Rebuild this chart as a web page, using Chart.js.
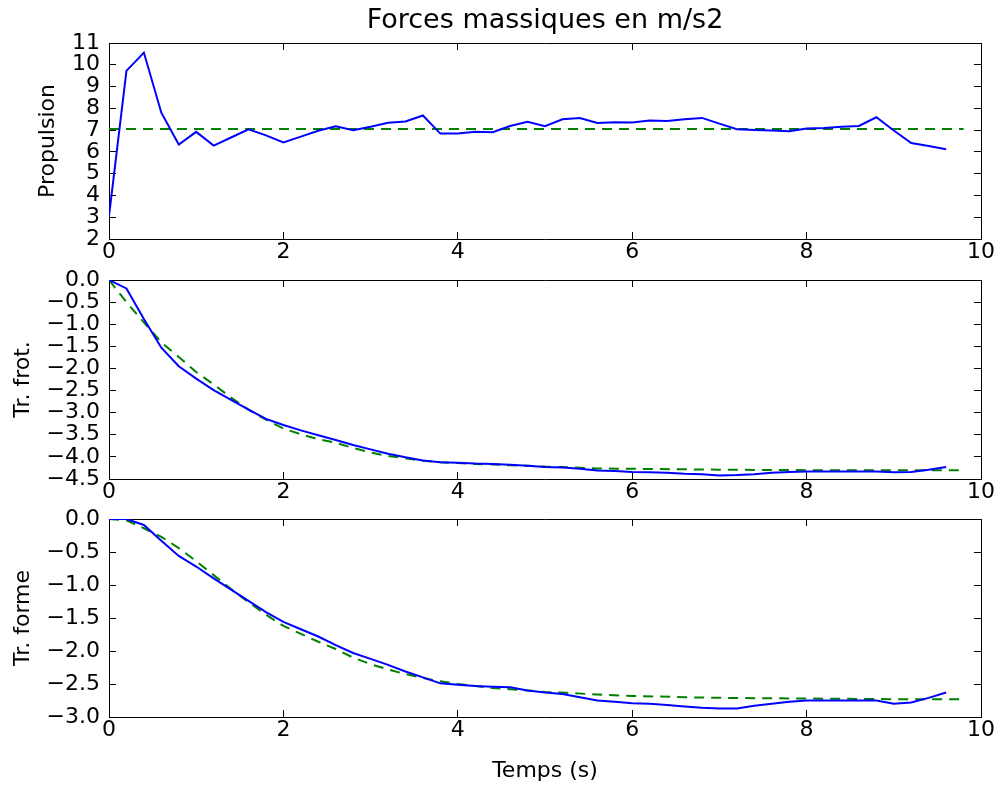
<!DOCTYPE html>
<html>
<head>
<meta charset="utf-8">
<script src="https://cdn.jsdelivr.net/npm/chart.js@4"></script>
<style>
    html, body { margin: 0; padding: 0; background: #fff; }
    #wrap { position: relative; width: 997px; height: 786px; }
    #wrap canvas { position: absolute; left: 0; top: 0; }
</style>
</head>
<body>
<div id="wrap">
    <canvas id="chartProp" width="997" height="786"></canvas>
    <canvas id="chartFrot" width="997" height="786"></canvas>
    <canvas id="chartForme" width="997" height="786"></canvas>
</div>
<script>
// temps des mesures (s)
const temps = [0, 0.2, 0.4, 0.6, 0.8, 1.0, 1.2, 1.4, 1.6, 1.8, 2.0, 2.2, 2.4, 2.6, 2.8, 3.0, 3.2, 3.4, 3.6, 3.8,
    4.0, 4.2, 4.4, 4.6, 4.8, 5.0, 5.2, 5.4, 5.6, 5.8, 6.0, 6.2, 6.4, 6.6, 6.8, 7.0, 7.2, 7.4, 7.6, 7.8,
    8.0, 8.2, 8.4, 8.6, 8.8, 9.0, 9.2, 9.4, 9.6];
// temps du modele (s)
const tempsModele = [0, 0.2, 0.4, 0.6, 0.8, 1.0, 1.2, 1.4, 1.6, 1.8, 2.0, 2.2, 2.4, 2.6, 2.8, 3.0, 3.2, 3.4, 3.6, 3.8,
    4.0, 4.2, 4.4, 4.6, 4.8, 5.0, 5.2, 5.6, 6.0, 6.6, 7.0, 8.0, 9.0, 9.8];
const tempsPropModele = [0, 9.8];

const propulsion = [3.05, 9.72, 10.56, 7.8, 6.34, 6.92, 6.29, 6.66, 7.04, 6.76, 6.43, 6.7, 6.97, 7.18, 7.0, 7.15, 7.34, 7.4, 7.67, 6.84,
    6.85, 6.92, 6.9, 7.19, 7.38, 7.18, 7.5, 7.56, 7.33, 7.36, 7.35, 7.44, 7.42, 7.5, 7.56, 7.3, 7.04, 7.0, 6.98, 6.95,
    7.07, 7.1, 7.15, 7.19, 7.59, 6.98, 6.41, 6.27, 6.12];
const propulsionModele = [7.05, 7.05];

const frottement = [0, -0.19, -0.88, -1.53, -1.95, -2.23, -2.49, -2.71, -2.93, -3.14, -3.28, -3.4, -3.51, -3.62, -3.73, -3.83, -3.93, -4.01, -4.08, -4.12,
    -4.13, -4.15, -4.16, -4.18, -4.2, -4.23, -4.24, -4.27, -4.31, -4.32, -4.34, -4.35, -4.36, -4.38, -4.39, -4.42, -4.41, -4.39, -4.36, -4.34,
    -4.33, -4.33, -4.33, -4.33, -4.33, -4.35, -4.34, -4.29, -4.23];
const frottementModele = [0, -0.5, -0.96, -1.41, -1.74, -2.08, -2.36, -2.66, -2.93, -3.16, -3.36, -3.49, -3.6, -3.68, -3.8, -3.9, -3.98, -4.03, -4.09, -4.12,
    -4.14, -4.16, -4.17, -4.19, -4.2, -4.22, -4.23, -4.26, -4.27, -4.28, -4.29, -4.3, -4.3, -4.3];

const forme = [0, 0, -0.09, -0.33, -0.56, -0.72, -0.9, -1.07, -1.24, -1.41, -1.56, -1.67, -1.78, -1.91, -2.03, -2.12, -2.21, -2.31, -2.4, -2.49,
    -2.51, -2.53, -2.54, -2.55, -2.6, -2.63, -2.65, -2.7, -2.75, -2.77, -2.79, -2.8, -2.82, -2.84, -2.86, -2.87, -2.87, -2.83, -2.8, -2.77,
    -2.75, -2.75, -2.75, -2.75, -2.75, -2.8, -2.78, -2.71, -2.63];
const formeModele = [0, -0.02, -0.14, -0.27, -0.44, -0.64, -0.85, -1.06, -1.26, -1.45, -1.62, -1.74, -1.86, -1.97, -2.1, -2.2, -2.28, -2.35, -2.41, -2.46,
    -2.5, -2.53, -2.56, -2.58, -2.6, -2.62, -2.63, -2.66, -2.68, -2.7, -2.71, -2.72, -2.73, -2.73];

const FONT = 'DejaVu Sans';
const tickFont = { family: FONT, size: 22 };
const TICK = -7;

const toPoints = (xs, ys) => xs.map((x, i) => ({ x: x, y: ys[i] }));
const fmtNeg = v => v.toFixed(1).replace('-', '\u2212');

function mirrorAxis(position, min, max, step) {
    return {
        type: 'linear', position: position, min: min, max: max,
        ticks: { display: false, stepSize: step, autoSkip: false },
        grid: { drawOnChartArea: false, drawTicks: true, tickLength: TICK, color: '#000', tickWidth: 1 },
        border: { display: true, color: '#000', width: 1 },
        afterFit: s => {
            if (position === 'top') s.height = 0; else s.width = 0;
            s.paddingLeft = 0; s.paddingRight = 0; s.paddingTop = 0; s.paddingBottom = 0;
        }
    };
}

function makePanel(id, p) {
    new Chart(document.getElementById(id), {
        type: 'line',
        data: {
            datasets: [
                {
                    data: toPoints(temps, p.mesure),
                    borderColor: '#0000ff', borderWidth: 2, pointRadius: 0, fill: false, tension: 0
                },
                {
                    data: toPoints(p.tModele, p.modele),
                    borderColor: '#008000', borderWidth: 2, borderDash: [10, 7], pointRadius: 0, fill: false, tension: 0
                }
            ]
        },
        options: {
            responsive: false,
            animation: false,
            events: [],
            layout: { padding: { top: p.top, bottom: p.bottom, left: 0, right: 16 } },
            plugins: {
                legend: { display: false },
                tooltip: { enabled: false },
                title: p.title ? {
                    display: true, text: p.title, fullSize: false, color: '#000',
                    font: { family: FONT, size: 27, weight: 'normal' },
                    padding: { top: 5, bottom: 5.6 }
                } : { display: false }
            },
            scales: {
                x: {
                    type: 'linear', position: 'bottom', min: 0, max: 10,
                    ticks: { stepSize: 2, padding: 7, color: '#000', font: tickFont, maxRotation: 0, autoSkip: false },
                    grid: { drawOnChartArea: false, drawTicks: true, tickLength: TICK, color: '#000', tickWidth: 1 },
                    border: { display: true, color: '#000', width: 1 },
                    title: p.xTitle ? {
                        display: true, text: p.xTitle, color: '#000', font: tickFont, padding: { top: 0, bottom: 2 }
                    } : { display: false },
                    afterFit: s => { s.height = p.xHeight; s.paddingLeft = 0; s.paddingRight = 0; }
                },
                x2: mirrorAxis('top', 0, 10, 2),
                y: {
                    type: 'linear', position: 'left', min: p.yMin, max: p.yMax,
                    ticks: { stepSize: p.yStep, padding: 16, color: '#000', font: tickFont, autoSkip: false, callback: p.fmt },
                    grid: { drawOnChartArea: false, drawTicks: true, tickLength: TICK, color: '#000', tickWidth: 1 },
                    border: { display: true, color: '#000', width: 1 },
                    title: { display: true, text: p.yTitle, color: '#000', font: tickFont, padding: { top: p.yTitlePad, bottom: 0 } },
                    afterFit: s => { s.width = 109; s.paddingTop = 0; s.paddingBottom = 0; }
                },
                y2: mirrorAxis('right', p.yMin, p.yMax, p.yStep)
            }
        }
    });
}

makePanel('chartProp', {
    mesure: propulsion, tModele: tempsPropModele, modele: propulsionModele,
    top: 0, bottom: 516, xHeight: 31, title: 'Forces massiques en m/s2',
    yMin: 2, yMax: 11, yStep: 1, fmt: v => String(v), yTitle: 'Propulsion', yTitlePad: 35
});
makePanel('chartFrot', {
    mesure: frottement, tModele: tempsModele, modele: frottementModele,
    top: 280, bottom: 276, xHeight: 31,
    yMin: -4.5, yMax: 0, yStep: 0.5, fmt: fmtNeg, yTitle: 'Tr. frot.', yTitlePad: 10
});
makePanel('chartForme', {
    mesure: forme, tModele: tempsModele, modele: formeModele,
    top: 519, bottom: 0, xHeight: 69, xTitle: 'Temps (s)',
    yMin: -3, yMax: 0, yStep: 0.5, fmt: fmtNeg, yTitle: 'Tr. forme', yTitlePad: 10
});
</script>
</body>
</html>
